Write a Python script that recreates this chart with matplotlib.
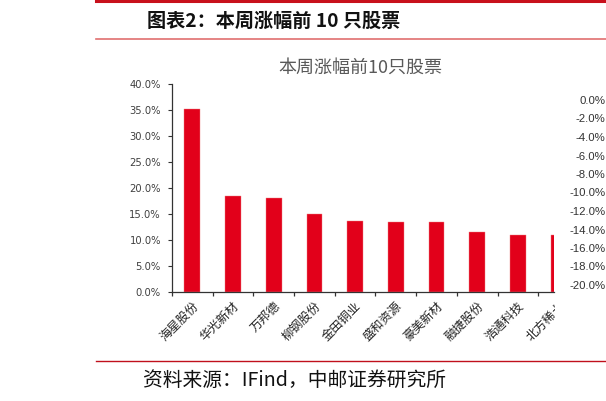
import matplotlib
matplotlib.use('Agg')
import matplotlib.pyplot as plt
import matplotlib.transforms as mtransforms
from matplotlib.ticker import FuncFormatter, FixedLocator
import numpy as np

plt.rcParams['font.family'] = ['Noto Sans CJK SC', 'DejaVu Sans']

# data
stocks = ['海星股份', '华光新材', '万邦德', '柳钢股份', '金田铜业',
          '盛和资源', '豪美新材', '融捷股份', '浩通科技', '北方稀土']
gains = [35.2, 18.5, 18.1, 15.0, 13.7, 13.5, 13.4, 11.6, 11.0, 10.9]  # %
left_ticks = [0, 5, 10, 15, 20, 25, 30, 35, 40]
right_ticks = [0, -2, -4, -6, -8, -10, -12, -14, -16, -18, -20]

header = '图表2：本周涨幅前 10 只股票'
chart_title = '本周涨幅前10只股票'
source = '资料来源：IFind，中邮证券研究所'

W, H = 606, 401
fig = plt.figure(figsize=(W / 100, H / 100), dpi=100)


def fx(px):
    return px / W


def fy(py):
    return 1 - py / H


# page decoration: red rules
fig.add_artist(plt.Line2D([fx(96), 1], [fy(1), fy(1)], color='#c8101c', lw=2.2))
fig.add_artist(plt.Line2D([fx(96), 1], [fy(38.5), fy(38.5)], color='#e07070', lw=1.2))
fig.add_artist(plt.Line2D([fx(96), 1], [fy(361), fy(361)], color='#c0101c', lw=1.0))

fig.text(fx(147), fy(21), header, fontsize=13.8, fontweight='bold',
         color='#111111', ha='left', va='center')
fig.text(fx(143), fy(380), source, fontsize=14.2, color='#111111',
         ha='left', va='center')
fig.text(fx(360), fy(68), chart_title, fontsize=13, color='#595959',
         ha='center', va='center')

# main axes
ax = fig.add_axes([fx(172), fy(292), fx(554) - fx(172), fy(84) - fy(292)])
x = np.arange(len(stocks))
ax.bar(x, gains, width=0.39, color='#e2001a', edgecolor='#f08080', linewidth=0.3)
ax.set_xlim(-0.5, 8.886)
ax.set_ylim(0, 40)
ax.set_yticks(left_ticks)
ax.yaxis.set_major_formatter(FuncFormatter(lambda v, p: f'{v:.1f}%'))
ax.tick_params(axis='y', direction='out', length=3, width=0.8, pad=5,
               labelsize=7.2, labelcolor='#404040', color='#333333')
for lab in ax.get_yticklabels():
    lab.set_family('DejaVu Sans')
ax.set_xticks([])
ax.xaxis.set_minor_locator(FixedLocator(np.arange(-0.5, 9, 1.0)))
ax.tick_params(axis='x', which='minor', direction='out', length=3, width=0.9,
               color='#333333')
for s in ['top', 'right']:
    ax.spines[s].set_visible(False)
for s in ['left', 'bottom']:
    ax.spines[s].set_color('#333333')
    ax.spines[s].set_linewidth(0.9)

# category labels, clipped at the cut-off edge of the chart picture
clip = mtransforms.TransformedBbox(
    mtransforms.Bbox([[0, 0], [fx(555), 1]]), fig.transFigure)
trans = mtransforms.blended_transform_factory(ax.transData, ax.transAxes)
offset = mtransforms.ScaledTranslation(0, -12 / 100, fig.dpi_scale_trans)
for i, name in enumerate(stocks):
    t = ax.text(i + 0.1, 0, name, transform=trans + offset, rotation=45,
                ha='right', va='center', rotation_mode='anchor',
                fontsize=8.8, color='#222222', clip_on=False)
    t.set_clip_box(clip)
    t.set_clip_on(True)

# right-hand axis of the neighbouring chart (only its labels are visible)
ax2 = fig.add_axes([fx(605.5), fy(285), 0.0001, fy(100) - fy(285)])
ax2.set_ylim(-20, 0)
ax2.set_yticks(right_ticks)
ax2.yaxis.set_major_formatter(FuncFormatter(lambda v, p: f'{v:.1f}%'))
ax2.tick_params(axis='y', length=0, pad=0, labelsize=8.2, labelcolor='#333333')
for lab in ax2.get_yticklabels():
    lab.set_family('Liberation Sans')
ax2.set_xticks([])
for s in ax2.spines.values():
    s.set_visible(False)

fig.savefig('out.png', dpi=100)
